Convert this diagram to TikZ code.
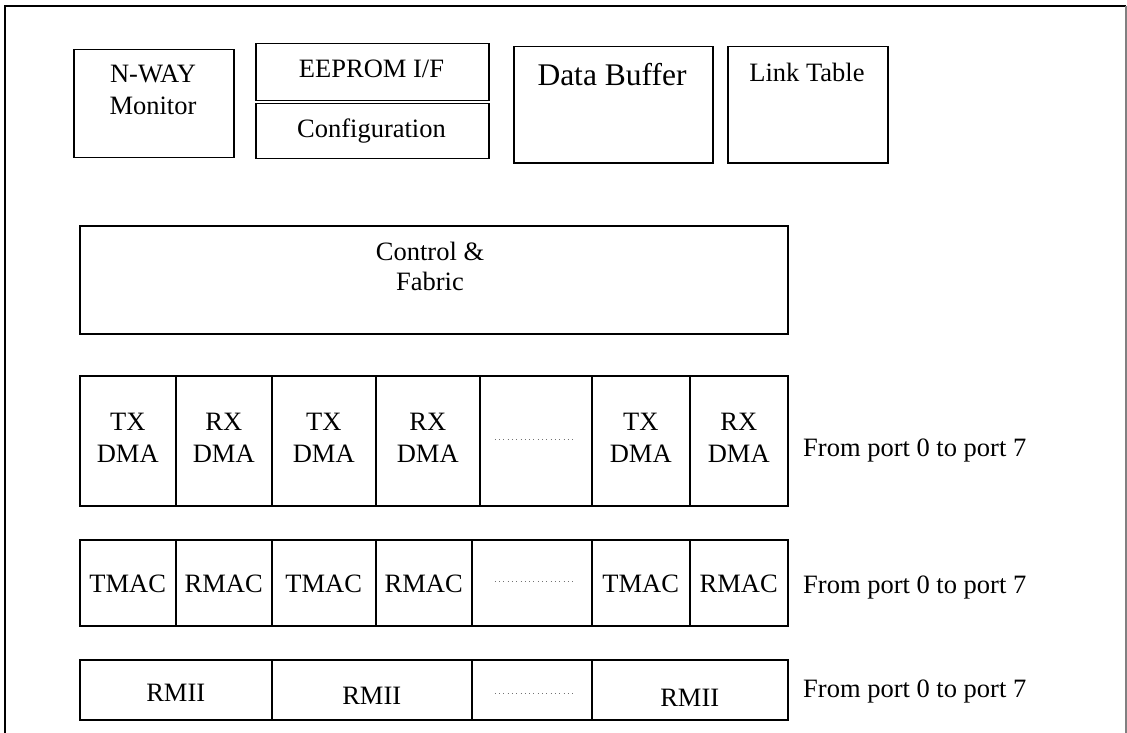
\documentclass[tikz,border=0pt]{standalone}
\usepackage{fontspec}
\setmainfont{Liberation Serif}
\newcommand{\myfs}{\fontsize{26.5}{31}\selectfont}
\newcommand{\mybig}{\fontsize{31.5}{36}\selectfont}
\begin{document}
\begin{tikzpicture}[x=1pt,y=-1pt,
  box/.style={draw, line width=1.5pt, inner sep=0pt, anchor=north west},
  txt/.style={anchor=base, inner sep=0pt, font=\myfs},
  sidetxt/.style={anchor=base west, inner sep=0pt, font=\myfs},
  dotline/.style={draw=black!55, line width=0.9pt, dash pattern=on 0.9pt off 3.4pt}]
\useasboundingbox (0,0) rectangle (1127,733);
% outer frame
\coordinate (f1) at (5,745);
\coordinate (f2) at (5,6);
\coordinate (f3) at (1126,6);
\coordinate (f4) at (1126,745);
\draw[line width=1.5pt] (f1) -- (f2) -- (f3);
\draw[line width=1.5pt, black!50] (f3) -- (f4);
% top blocks
\node[box, minimum width=160pt, minimum height=108pt] (nway) at (73,49) {};
\node[box, minimum width=233pt, minimum height=57pt] (eeprom) at (255,43) {};
\node[box, minimum width=233pt, minimum height=55pt] (config) at (255,103) {};
\node[box, minimum width=199pt, minimum height=116pt] (dbuf) at (513,46) {};
\node[box, minimum width=160pt, minimum height=116pt] (link) at (727,46) {};
\node[box, minimum width=708pt, minimum height=108pt] (ctrl) at (79,225) {};
\node[txt] (nwayA) at (153,83) {N-WAY};
\node[txt] (nwayB) at (153,115) {Monitor};
\node[txt] (eepT) at (371.5,78) {EEPROM I/F};
\node[txt] (cfgT) at (371.5,138) {Configuration};
\node[txt, font=\mybig] (dbufT) at (612,86) {Data Buffer};
\node[txt] (linkT) at (807,82) {Link Table};
\node[txt] (ctrlA) at (430,260) {Control \&};
\node[txt] (ctrlB) at (430,290) {Fabric};
% DMA row
\foreach \i/\xa/\xb in {1/79/175,2/175/271,3/271/375,4/375/479,5/479/591,6/591/689,7/689/787}{
  \node[box, minimum width={\xb-\xa}, minimum height=130pt] (d\i) at (\xa,375) {};
}
\foreach \i/\l in {1/TX,2/RX,3/TX,4/RX,6/TX,7/RX}{
  \node[txt] (dt\i) at (d\i.center |- 0,430) {\l};
  \node[txt] (dm\i) at (d\i.center |- 0,462) {DMA};
}
\draw[dotline] ([xshift=-41pt,yshift=1pt]d5.center) -- ([xshift=38pt,yshift=1pt]d5.center);
% MAC row
\foreach \i/\xa/\xb in {1/79/175,2/175/271,3/271/375,4/375/471,5/471/591,6/591/689,7/689/787}{
  \node[box, minimum width={\xb-\xa}, minimum height=86pt] (m\i) at (\xa,539) {};
}
\foreach \i/\l in {1/TMAC,2/RMAC,3/TMAC,4/RMAC,6/TMAC,7/RMAC}{
  \node[txt] (mt\i) at (m\i.center |- 0,592) {\l};
}
\draw[dotline] ([xshift=-37pt,yshift=1pt]m5.center) -- ([xshift=42pt,yshift=1pt]m5.center);
% RMII row
\foreach \i/\xa/\xb in {1/79/271,2/271/471,3/471/591,4/591/787}{
  \node[box, minimum width={\xb-\xa}, minimum height=60pt] (r\i) at (\xa,659) {};
}
\node[txt] (rt1) at (r1.center |- 0,701) {RMII};
\node[txt] (rt2) at (r2.center |- 0,704) {RMII};
\node[txt] (rt4) at (r4.center |- 0,706) {RMII};
\draw[dotline] ([xshift=-37pt,yshift=-4pt]r3.center) -- ([xshift=42pt,yshift=-4pt]r3.center);
% side labels
\node[sidetxt] (sd) at (803,456) {From port 0 to port 7};
\node[sidetxt] (sm) at (803,593) {From port 0 to port 7};
\node[sidetxt] (sr) at (803,697) {From port 0 to port 7};
\end{tikzpicture}
\end{document}
